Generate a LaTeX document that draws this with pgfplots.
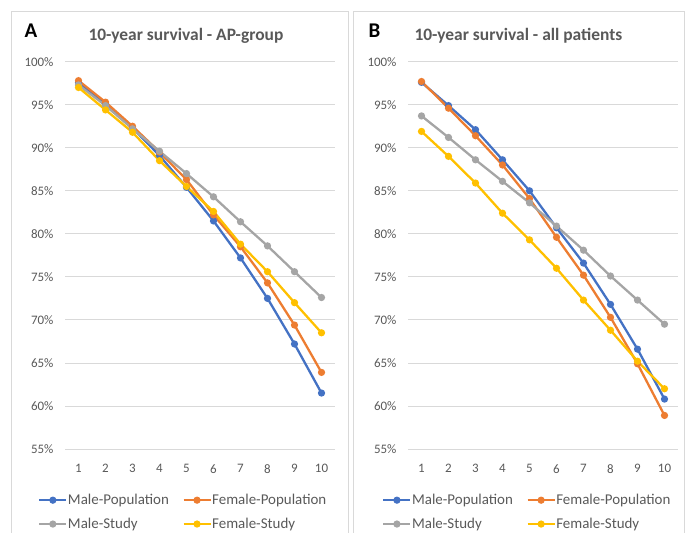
\documentclass[border=0pt]{standalone}
\usepackage{fontspec}
\setmainfont{Carlito}
\usepackage{pgfplots}
\usepackage{pgfplotstable}
\pgfplotsset{compat=1.18}

\definecolor{cblue}{HTML}{4472C4}
\definecolor{corange}{HTML}{ED7D31}
\definecolor{cgray}{HTML}{A5A5A5}
\definecolor{cyellow}{HTML}{FFC000}
\definecolor{txt}{HTML}{595959}
\definecolor{gridc}{HTML}{D9D9D9}

% survival in percent, year 1..10
\pgfplotstableread{
yr  mp    fp    ms    fs
1   97.6  97.8  97.3  97.0
2   95.1  95.3  94.9  94.4
3   92.3  92.5  92.2  91.8
4   89.1  89.5  89.6  88.5
5   85.4  86.3  87.0  85.5
6   81.5  82.2  84.3  82.6
7   77.2  78.5  81.4  78.8
8   72.5  74.3  78.6  75.6
9   67.2  69.4  75.6  72.0
10  61.5  63.9  72.6  68.5
}\apgroup

\pgfplotstableread{
yr  mp    fp    ms    fs
1   97.6  97.7  93.7  91.9
2   94.9  94.6  91.2  89.0
3   92.1  91.4  88.6  85.9
4   88.6  88.0  86.1  82.4
5   85.0  84.1  83.6  79.3
6   80.7  79.6  80.9  76.0
7   76.6  75.2  78.1  72.3
8   71.8  70.3  75.1  68.8
9   66.6  64.9  72.3  65.2
10  60.8  58.9  69.5  62.0
}\allpat

\pgfplotsset{
  survstyle/.style={
    scale only axis,
    width=270bp, height=387.3bp,
    xmin=0.5, xmax=10.5,
    ymin=55, ymax=100,
    xtick={1,...,10},
    ytick={55,60,...,100},
    /pgf/number format/assume math mode=true,
    yticklabel={\pgfmathprintnumber{\tick}\%},
    axis line style={draw=none},
    major tick length=0pt,
    ymajorgrids,
    grid style={draw=gridc, line width=0.8bp},
    tick label style={font=\fontsize{13}{15}\selectfont, text=txt},
    yticklabel style={xshift=-8bp},
    xticklabel style={yshift=-12bp},
    every axis plot/.append style={line width=2.3bp, mark=*, mark size=2.4bp},
    legend columns=2,
    legend cell align=left,
    legend style={draw=none, fill=none, inner sep=0pt,
      font=\fontsize{15}{17}\selectfont, text=txt,
      anchor=north west, row sep=11bp,
      nodes={inner sep=0.5bp},
      /tikz/every even column/.append style={column sep=13bp}},
    legend image code/.code={
      \draw[mark repeat=2, mark phase=2] plot coordinates {(0bp,0bp) (13.5bp,0bp) (27bp,0bp)};},
  },
}

\begin{document}
\begin{tikzpicture}
\path[use as bounding box] (0bp,0bp) rectangle (686bp,533bp);
\clip (0bp,0bp) rectangle (686bp,533bp);
\draw[gridc, line width=0.8bp] (11bp,-10bp) rectangle (348bp,522bp);
\draw[gridc, line width=0.8bp] (353bp,-10bp) rectangle (684bp,522bp);

\node[anchor=west, font=\fontsize{21}{23}\selectfont\bfseries] at (21bp,502bp) {A};
\node[anchor=west, font=\fontsize{17.5}{20}\selectfont\bfseries, text=txt] at (85bp,497bp) {10-year survival - AP-group};
\node[anchor=west, font=\fontsize{21}{23}\selectfont\bfseries] at (365bp,502bp) {B};
\node[anchor=west, font=\fontsize{17.5}{20}\selectfont\bfseries, text=txt] at (411bp,497bp) {10-year survival - all patients};

\begin{axis}[survstyle, at={(65bp,84bp)}, anchor=south west,
  legend style={at={(-0.1,-0.115)}}]
\addplot[cblue] table[x=yr, y=mp] {\apgroup};
\addlegendentry{Male-Population}
\addplot[corange] table[x=yr, y=fp] {\apgroup};
\addlegendentry{Female-Population}
\addplot[cgray] table[x=yr, y=ms] {\apgroup};
\addlegendentry{Male-Study}
\addplot[cyellow] table[x=yr, y=fs] {\apgroup};
\addlegendentry{Female-Study}
\end{axis}

\begin{axis}[survstyle, at={(408bp,84bp)}, anchor=south west,
  legend style={at={(-0.096,-0.115)}}]
\addplot[cblue] table[x=yr, y=mp] {\allpat};
\addlegendentry{Male-Population}
\addplot[corange] table[x=yr, y=fp] {\allpat};
\addlegendentry{Female-Population}
\addplot[cgray] table[x=yr, y=ms] {\allpat};
\addlegendentry{Male-Study}
\addplot[cyellow] table[x=yr, y=fs] {\allpat};
\addlegendentry{Female-Study}
\end{axis}
\end{tikzpicture}
\end{document}
